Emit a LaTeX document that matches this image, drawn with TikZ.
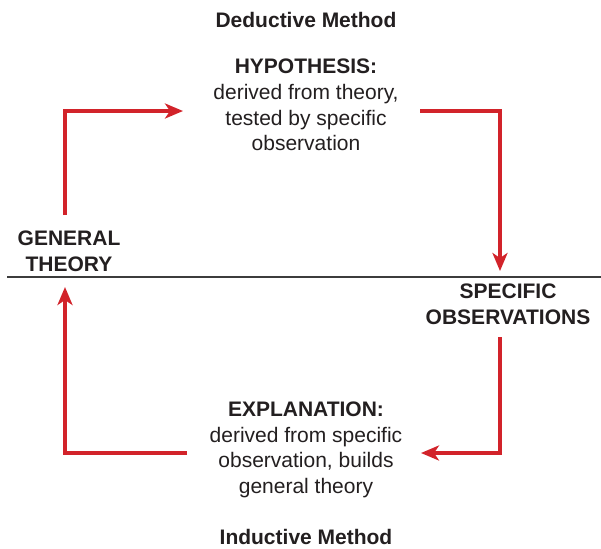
\documentclass[tikz,border=0pt]{standalone}
\usepackage{fontspec}
\setmainfont{Liberation Sans}
\usetikzlibrary{arrows.meta}
\definecolor{myred}{HTML}{D2232A}
\definecolor{mytext}{HTML}{231F20}
\definecolor{myrulec}{HTML}{3C3C3C}

\begin{document}
\begin{tikzpicture}[x=0.5pt, y=-0.5pt,
  mylbl/.style={text=mytext, font=\fontsize{10.5}{12.8}\selectfont, align=center, inner sep=0pt},
  mytitle/.style={mylbl, font=\fontsize{10.5}{12.8}\selectfont\bfseries},
  myflow/.style={draw=myred, line width=2.2pt, -{Stealth[length=9pt,width=7.5pt,inset=2.5pt]}},
  myrule/.style={draw=myrulec, line width=0.75pt}]
  \useasboundingbox[fill=white] (0,0) rectangle (601,548);

  \node[mytitle] (ded) at (306,20) {Deductive Method};
  \node[mylbl] (hyp) at (306,105) {\textbf{HYPOTHESIS:}\\derived from theory,\\tested by specific\\observation};
  \node[mytitle] (gen) at (69,251) {GENERAL\\THEORY};
  \node[mytitle] (spec) at (508,304) {SPECIFIC\\OBSERVATIONS};
  \node[mylbl] (expl) at (306,450) {\textbf{EXPLANATION:}\\derived from specific\\observation, builds\\general theory};
  \node[mytitle] (ind) at (306,537) {Inductive Method};

  \coordinate (g1) at (65,215);
  \coordinate (g2) at (65,287);
  \coordinate (h1) at (183,111);
  \coordinate (h2) at (420,111);
  \coordinate (s1) at (500,271);
  \coordinate (s2) at (500,337);
  \coordinate (e1) at (421,453);
  \coordinate (e2) at (187,453);
  \coordinate (l1) at (7,277);
  \coordinate (l2) at (601,277);

  \draw[myrule] (l1) -- (l2);

  \draw[myflow] (g1) |- (h1);
  \draw[myflow] (h2) -| (s1);
  \draw[myflow] (s2) |- (e1);
  \draw[myflow] (e2) -| (g2);
\end{tikzpicture}
\end{document}
